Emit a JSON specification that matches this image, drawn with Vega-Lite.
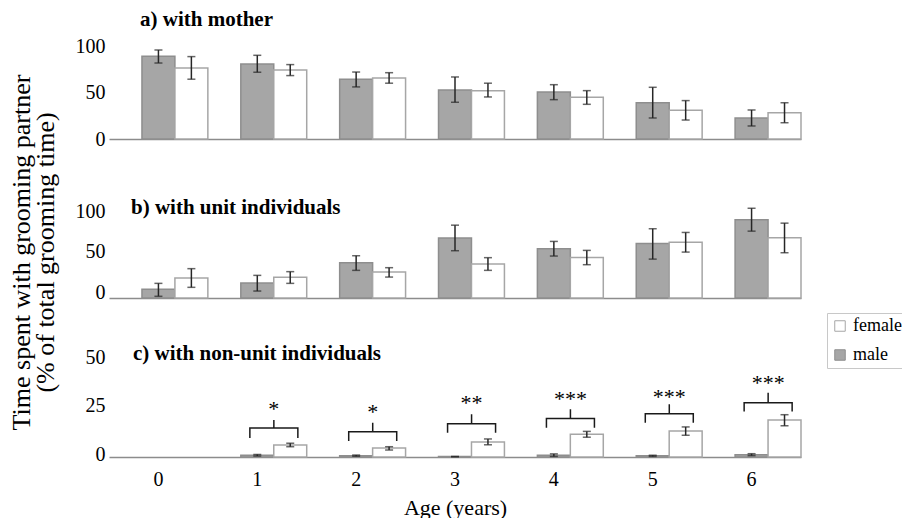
{
  "$schema": "https://vega.github.io/schema/vega-lite/v6.json",
  "background": "white",
  "padding": {"left": 8, "top": 9, "right": 0, "bottom": 0},
  "bounds": "flush",
  "spacing": 62,
  "config": {
    "view": {"stroke": null},
    "font": "Liberation Serif",
    "axis": {"labelFont": "Liberation Serif", "titleFont": "Liberation Serif", "labelColor": "#000", "titleColor": "#000", "grid": false, "ticks": false},
    "title": {"font": "Liberation Serif", "fontSize": 21, "fontWeight": "bold", "anchor": "start", "frame": "group", "baseline": "alphabetic", "color": "#000"}
  },
  "resolve": {"scale": {"xOffset": "independent"}},
  "datasets": {
    "bars": [
      {"panel": "a", "age": 0, "sex": "male", "value": 89, "lo": 81.7, "hi": 95.7},
      {"panel": "a", "age": 0, "sex": "female", "value": 76.3, "lo": 64.3, "hi": 88.6},
      {"panel": "a", "age": 1, "sex": "male", "value": 80.6, "lo": 71.8, "hi": 90},
      {"panel": "a", "age": 1, "sex": "female", "value": 74.2, "lo": 68.2, "hi": 80},
      {"panel": "a", "age": 2, "sex": "male", "value": 64.3, "lo": 56, "hi": 72},
      {"panel": "a", "age": 2, "sex": "female", "value": 65.6, "lo": 60, "hi": 71.3},
      {"panel": "a", "age": 3, "sex": "male", "value": 52.7, "lo": 39.5, "hi": 66.7},
      {"panel": "a", "age": 3, "sex": "female", "value": 52, "lo": 45.2, "hi": 60},
      {"panel": "a", "age": 4, "sex": "male", "value": 50.5, "lo": 42.3, "hi": 58.4},
      {"panel": "a", "age": 4, "sex": "female", "value": 44.8, "lo": 37.3, "hi": 52},
      {"panel": "a", "age": 5, "sex": "male", "value": 39, "lo": 22.6, "hi": 55.6},
      {"panel": "a", "age": 5, "sex": "female", "value": 30.8, "lo": 20.4, "hi": 41.3},
      {"panel": "a", "age": 6, "sex": "male", "value": 22.6, "lo": 14, "hi": 31.2},
      {"panel": "a", "age": 6, "sex": "female", "value": 28.3, "lo": 17.5, "hi": 39},
      {"panel": "b", "age": 0, "sex": "male", "value": 10.7, "lo": 2.1, "hi": 18.1},
      {"panel": "b", "age": 0, "sex": "female", "value": 24.7, "lo": 13.2, "hi": 36.3},
      {"panel": "b", "age": 1, "sex": "male", "value": 18.5, "lo": 8.6, "hi": 28},
      {"panel": "b", "age": 1, "sex": "female", "value": 25.6, "lo": 18.1, "hi": 32.6},
      {"panel": "b", "age": 2, "sex": "male", "value": 43.7, "lo": 34.2, "hi": 52.3},
      {"panel": "b", "age": 2, "sex": "female", "value": 32.1, "lo": 25.9, "hi": 37.5},
      {"panel": "b", "age": 3, "sex": "male", "value": 74.1, "lo": 58.5, "hi": 90.1},
      {"panel": "b", "age": 3, "sex": "female", "value": 42, "lo": 34.2, "hi": 49.9},
      {"panel": "b", "age": 4, "sex": "male", "value": 61, "lo": 51.9, "hi": 70},
      {"panel": "b", "age": 4, "sex": "female", "value": 50.2, "lo": 41.2, "hi": 58.9},
      {"panel": "b", "age": 5, "sex": "male", "value": 67.5, "lo": 48.1, "hi": 85.7},
      {"panel": "b", "age": 5, "sex": "female", "value": 69.1, "lo": 56.8, "hi": 81.1},
      {"panel": "b", "age": 6, "sex": "male", "value": 96.8, "lo": 82.7, "hi": 111},
      {"panel": "b", "age": 6, "sex": "female", "value": 74.6, "lo": 56, "hi": 92.6},
      {"panel": "c", "age": 1, "sex": "male", "value": 0.9, "lo": 0.5, "hi": 1.3},
      {"panel": "c", "age": 1, "sex": "female", "value": 6.2, "lo": 5.3, "hi": 7.1},
      {"panel": "c", "age": 2, "sex": "male", "value": 0.7, "lo": 0.4, "hi": 1.0},
      {"panel": "c", "age": 2, "sex": "female", "value": 4.6, "lo": 3.6, "hi": 5.3},
      {"panel": "c", "age": 3, "sex": "male", "value": 0.2, "lo": 0.1, "hi": 0.3},
      {"panel": "c", "age": 3, "sex": "female", "value": 7.7, "lo": 6.3, "hi": 9.3},
      {"panel": "c", "age": 4, "sex": "male", "value": 0.9, "lo": 0.3, "hi": 1.6},
      {"panel": "c", "age": 4, "sex": "female", "value": 11.7, "lo": 10.2, "hi": 13.2},
      {"panel": "c", "age": 5, "sex": "male", "value": 0.6, "lo": 0.3, "hi": 0.9},
      {"panel": "c", "age": 5, "sex": "female", "value": 13.4, "lo": 11.2, "hi": 15.5},
      {"panel": "c", "age": 6, "sex": "male", "value": 1.2, "lo": 0.7, "hi": 1.7},
      {"panel": "c", "age": 6, "sex": "female", "value": 19.1, "lo": 16.1, "hi": 21.8}
    ],
    "brackets": [
      {"age": 1, "pos": "l", "seq": 1, "y": 9.8}, {"age": 1, "pos": "l", "seq": 2, "y": 14.9}, {"age": 1, "pos": "m", "seq": 3, "y": 14.9}, {"age": 1, "pos": "m", "seq": 4, "y": 19.1}, {"age": 1, "pos": "m", "seq": 5, "y": 14.9}, {"age": 1, "pos": "r", "seq": 6, "y": 14.9}, {"age": 1, "pos": "r", "seq": 7, "y": 9.8},
      {"age": 2, "pos": "l", "seq": 1, "y": 8.2}, {"age": 2, "pos": "l", "seq": 2, "y": 13.0}, {"age": 2, "pos": "m", "seq": 3, "y": 13.0}, {"age": 2, "pos": "m", "seq": 4, "y": 17.7}, {"age": 2, "pos": "m", "seq": 5, "y": 13.0}, {"age": 2, "pos": "r", "seq": 6, "y": 13.0}, {"age": 2, "pos": "r", "seq": 7, "y": 8.2},
      {"age": 3, "pos": "l", "seq": 1, "y": 12.5}, {"age": 3, "pos": "l", "seq": 2, "y": 17.2}, {"age": 3, "pos": "m", "seq": 3, "y": 17.2}, {"age": 3, "pos": "m", "seq": 4, "y": 22.0}, {"age": 3, "pos": "m", "seq": 5, "y": 17.2}, {"age": 3, "pos": "r", "seq": 6, "y": 17.2}, {"age": 3, "pos": "r", "seq": 7, "y": 12.5},
      {"age": 4, "pos": "l", "seq": 1, "y": 15.1}, {"age": 4, "pos": "l", "seq": 2, "y": 19.9}, {"age": 4, "pos": "m", "seq": 3, "y": 19.9}, {"age": 4, "pos": "m", "seq": 4, "y": 24.6}, {"age": 4, "pos": "m", "seq": 5, "y": 19.9}, {"age": 4, "pos": "r", "seq": 6, "y": 19.9}, {"age": 4, "pos": "r", "seq": 7, "y": 15.1},
      {"age": 5, "pos": "l", "seq": 1, "y": 17.7}, {"age": 5, "pos": "l", "seq": 2, "y": 22.3}, {"age": 5, "pos": "m", "seq": 3, "y": 22.3}, {"age": 5, "pos": "m", "seq": 4, "y": 27.2}, {"age": 5, "pos": "m", "seq": 5, "y": 22.3}, {"age": 5, "pos": "r", "seq": 6, "y": 22.3}, {"age": 5, "pos": "r", "seq": 7, "y": 17.7},
      {"age": 6, "pos": "l", "seq": 1, "y": 23.4}, {"age": 6, "pos": "l", "seq": 2, "y": 28.0}, {"age": 6, "pos": "m", "seq": 3, "y": 28.0}, {"age": 6, "pos": "m", "seq": 4, "y": 33.1}, {"age": 6, "pos": "m", "seq": 5, "y": 28.0}, {"age": 6, "pos": "r", "seq": 6, "y": 28.0}, {"age": 6, "pos": "r", "seq": 7, "y": 23.4}
    ],
    "stars": [
      {"age": 1, "pos": "m", "y": 21.1, "label": "*"},
      {"age": 2, "pos": "m", "y": 19.6, "label": "*"},
      {"age": 3, "pos": "m", "y": 24.1, "label": "**"},
      {"age": 4, "pos": "m", "y": 26.3, "label": "***"},
      {"age": 5, "pos": "m", "y": 27.5, "label": "***"},
      {"age": 6, "pos": "m", "y": 34.4, "label": "***"}
    ]
  },
  "vconcat": [
    {
      "width": 692, "height": 93,
      "title": {"text": "a) with mother", "dx": 31, "offset": 6, "font": "Liberation Serif"},
      "data": {"name": "bars"},
      "transform": [{"filter": "datum.panel === 'a'"}],
      "encoding": {
        "x": {"field": "age", "type": "ordinal", "scale": {"domain": [0, 1, 2, 3, 4, 5, 6], "paddingInner": 0, "paddingOuter": 0}, "axis": {"labels": false, "title": null, "domainColor": "#8c8c8c", "domainWidth": 1.5}},
        "xOffset": {"field": "sex", "type": "nominal", "scale": {"domain": ["blank", "male", "female"], "paddingInner": 0, "paddingOuter": 0}}
      },
      "layer": [
        {"mark": {"type": "bar", "strokeWidth": 1.5},
         "encoding": {
           "y": {"field": "value", "type": "quantitative", "scale": {"domain": [0, 100], "nice": false}, "axis": {"values": [0, 50, 100], "domain": false, "labelFont": "Liberation Serif", "labelFontSize": 20, "labelPadding": 4, "title": ["Time spent with grooming partner", "(% of total grooming time)"], "titleFont": "Liberation Serif", "titleFontSize": 26, "titleFontWeight": "normal", "titlePadding": 17, "titleLineHeight": 23.5, "titleY": 206}},
           "color": {"field": "sex", "type": "nominal", "scale": {"domain": ["female", "male"], "range": ["#ffffff", "#a6a6a6"]}, "legend": {"title": null, "orient": "none", "legendX": 718, "legendY": 267, "symbolType": "square", "symbolSize": 110, "labelFont": "Liberation Serif", "labelFontSize": 18, "labelColor": "#000", "strokeColor": "#c8c8c8", "padding": 4, "rowPadding": 11, "symbolStrokeWidth": 1}},
           "stroke": {"field": "sex", "type": "nominal", "scale": {"domain": ["female", "male"], "range": ["#a6a6a6", "#8e8e8e"]}, "legend": {"title": null, "orient": "none", "legendX": 718, "legendY": 267, "symbolType": "square", "symbolSize": 110, "labelFont": "Liberation Serif", "labelFontSize": 18, "labelColor": "#000", "strokeColor": "#c8c8c8", "padding": 4, "rowPadding": 11, "symbolStrokeWidth": 1}}
         }},
        {"mark": {"type": "rule", "color": "#262626", "strokeWidth": 1.5},
         "encoding": {"y": {"field": "lo", "type": "quantitative", "scale": {"domain": [0, 100], "nice": false}, "axis": {"values": [0, 50, 100], "domain": false, "labelFont": "Liberation Serif", "labelFontSize": 20, "labelPadding": 4, "title": ["Time spent with grooming partner", "(% of total grooming time)"], "titleFont": "Liberation Serif", "titleFontSize": 26, "titleFontWeight": "normal", "titlePadding": 17, "titleLineHeight": 23.5, "titleY": 206}}, "y2": {"field": "hi"}}},
        {"mark": {"type": "tick", "color": "#262626", "thickness": 1.5, "size": 8},
         "encoding": {"y": {"field": "lo", "type": "quantitative", "scale": {"domain": [0, 100], "nice": false}, "axis": {"values": [0, 50, 100], "domain": false, "labelFont": "Liberation Serif", "labelFontSize": 20, "labelPadding": 4, "title": ["Time spent with grooming partner", "(% of total grooming time)"], "titleFont": "Liberation Serif", "titleFontSize": 26, "titleFontWeight": "normal", "titlePadding": 17, "titleLineHeight": 23.5, "titleY": 206}}}},
        {"mark": {"type": "tick", "color": "#262626", "thickness": 1.5, "size": 8},
         "encoding": {"y": {"field": "hi", "type": "quantitative", "scale": {"domain": [0, 100], "nice": false}, "axis": {"values": [0, 50, 100], "domain": false, "labelFont": "Liberation Serif", "labelFontSize": 20, "labelPadding": 4, "title": ["Time spent with grooming partner", "(% of total grooming time)"], "titleFont": "Liberation Serif", "titleFontSize": 26, "titleFontWeight": "normal", "titlePadding": 17, "titleLineHeight": 23.5, "titleY": 206}}}}
      ]
    },
    {
      "width": 692, "height": 97,
      "title": {"text": "b) with unit individuals", "dx": 22, "offset": -17, "font": "Liberation Serif"},
      "data": {"name": "bars"},
      "transform": [{"filter": "datum.panel === 'b'"}],
      "encoding": {
        "x": {"field": "age", "type": "ordinal", "scale": {"domain": [0, 1, 2, 3, 4, 5, 6], "paddingInner": 0, "paddingOuter": 0}, "axis": {"labels": false, "title": null, "domainColor": "#8c8c8c", "domainWidth": 1.5}},
        "xOffset": {"field": "sex", "type": "nominal", "scale": {"domain": ["blank", "male", "female"], "paddingInner": 0, "paddingOuter": 0}}
      },
      "layer": [
        {"mark": {"type": "bar", "strokeWidth": 1.5},
         "encoding": {
           "y": {"field": "value", "type": "quantitative", "scale": {"domain": [0, 120], "nice": false}, "axis": {"values": [0, 50, 100], "domain": false, "labelFont": "Liberation Serif", "labelFontSize": 20, "labelPadding": 4, "labelOffset": -6, "title": null}},
           "color": {"field": "sex", "type": "nominal", "scale": {"domain": ["female", "male"], "range": ["#ffffff", "#a6a6a6"]}, "legend": {"title": null, "orient": "none", "legendX": 718, "legendY": 267, "symbolType": "square", "symbolSize": 110, "labelFont": "Liberation Serif", "labelFontSize": 18, "labelColor": "#000", "strokeColor": "#c8c8c8", "padding": 4, "rowPadding": 11, "symbolStrokeWidth": 1}},
           "stroke": {"field": "sex", "type": "nominal", "scale": {"domain": ["female", "male"], "range": ["#a6a6a6", "#8e8e8e"]}, "legend": {"title": null, "orient": "none", "legendX": 718, "legendY": 267, "symbolType": "square", "symbolSize": 110, "labelFont": "Liberation Serif", "labelFontSize": 18, "labelColor": "#000", "strokeColor": "#c8c8c8", "padding": 4, "rowPadding": 11, "symbolStrokeWidth": 1}}
         }},
        {"mark": {"type": "rule", "color": "#262626", "strokeWidth": 1.5},
         "encoding": {"y": {"field": "lo", "type": "quantitative", "scale": {"domain": [0, 120], "nice": false}, "axis": {"values": [0, 50, 100], "domain": false, "labelFont": "Liberation Serif", "labelFontSize": 20, "labelPadding": 4, "labelOffset": -6, "title": null}}, "y2": {"field": "hi"}}},
        {"mark": {"type": "tick", "color": "#262626", "thickness": 1.5, "size": 8},
         "encoding": {"y": {"field": "lo", "type": "quantitative", "scale": {"domain": [0, 120], "nice": false}, "axis": {"values": [0, 50, 100], "domain": false, "labelFont": "Liberation Serif", "labelFontSize": 20, "labelPadding": 4, "labelOffset": -6, "title": null}}}},
        {"mark": {"type": "tick", "color": "#262626", "thickness": 1.5, "size": 8},
         "encoding": {"y": {"field": "hi", "type": "quantitative", "scale": {"domain": [0, 120], "nice": false}, "axis": {"values": [0, 50, 100], "domain": false, "labelFont": "Liberation Serif", "labelFontSize": 20, "labelPadding": 4, "labelOffset": -6, "title": null}}}}
      ]
    },
    {
      "width": 692, "height": 97,
      "title": {"text": "c) with non-unit individuals", "dx": 24, "offset": -16.7, "font": "Liberation Serif"},
      "data": {"name": "bars"},
      "transform": [{"filter": "datum.panel === 'c'"}],
      "resolve": {"scale": {"xOffset": "independent"}},
      "encoding": {
        "x": {"field": "age", "type": "ordinal", "scale": {"domain": [0, 1, 2, 3, 4, 5, 6], "paddingInner": 0, "paddingOuter": 0}, "axis": {"labelFont": "Liberation Serif", "labelFontSize": 20, "labelAngle": 0, "labelPadding": 12, "title": "Age (years)", "titleFont": "Liberation Serif", "titleFontSize": 22, "titleFontWeight": "normal", "titlePadding": 8, "domainColor": "#8c8c8c", "domainWidth": 1.5}}
      },
      "layer": [
        {"mark": {"type": "bar", "strokeWidth": 1.5},
         "encoding": {
           "xOffset": {"field": "sex", "type": "nominal", "scale": {"domain": ["blank", "male", "female"], "paddingInner": 0, "paddingOuter": 0}},
           "y": {"field": "value", "type": "quantitative", "scale": {"domain": [0, 50], "nice": false}, "axis": {"values": [0, 25, 50], "domain": false, "labelFont": "Liberation Serif", "labelFontSize": 20, "labelPadding": 4, "labelOffset": -3, "title": null}},
           "color": {"field": "sex", "type": "nominal", "scale": {"domain": ["female", "male"], "range": ["#ffffff", "#a6a6a6"]}, "legend": {"title": null, "orient": "none", "legendX": 718, "legendY": 267, "symbolType": "square", "symbolSize": 110, "labelFont": "Liberation Serif", "labelFontSize": 18, "labelColor": "#000", "strokeColor": "#c8c8c8", "padding": 4, "rowPadding": 11, "symbolStrokeWidth": 1}},
           "stroke": {"field": "sex", "type": "nominal", "scale": {"domain": ["female", "male"], "range": ["#a6a6a6", "#8e8e8e"]}, "legend": {"title": null, "orient": "none", "legendX": 718, "legendY": 267, "symbolType": "square", "symbolSize": 110, "labelFont": "Liberation Serif", "labelFontSize": 18, "labelColor": "#000", "strokeColor": "#c8c8c8", "padding": 4, "rowPadding": 11, "symbolStrokeWidth": 1}}
         }},
        {"mark": {"type": "rule", "color": "#262626", "strokeWidth": 1.5},
         "encoding": {
           "xOffset": {"field": "sex", "type": "nominal", "scale": {"domain": ["blank", "male", "female"], "paddingInner": 0, "paddingOuter": 0}},
           "y": {"field": "lo", "type": "quantitative", "scale": {"domain": [0, 50], "nice": false}, "axis": {"values": [0, 25, 50], "domain": false, "labelFont": "Liberation Serif", "labelFontSize": 20, "labelPadding": 4, "labelOffset": -3, "title": null}}, "y2": {"field": "hi"}}},
        {"mark": {"type": "tick", "color": "#262626", "thickness": 1.5, "size": 8},
         "encoding": {
           "xOffset": {"field": "sex", "type": "nominal", "scale": {"domain": ["blank", "male", "female"], "paddingInner": 0, "paddingOuter": 0}},
           "y": {"field": "lo", "type": "quantitative", "scale": {"domain": [0, 50], "nice": false}, "axis": {"values": [0, 25, 50], "domain": false, "labelFont": "Liberation Serif", "labelFontSize": 20, "labelPadding": 4, "labelOffset": -3, "title": null}}}},
        {"mark": {"type": "tick", "color": "#262626", "thickness": 1.5, "size": 8},
         "encoding": {
           "xOffset": {"field": "sex", "type": "nominal", "scale": {"domain": ["blank", "male", "female"], "paddingInner": 0, "paddingOuter": 0}},
           "y": {"field": "hi", "type": "quantitative", "scale": {"domain": [0, 50], "nice": false}, "axis": {"values": [0, 25, 50], "domain": false, "labelFont": "Liberation Serif", "labelFontSize": 20, "labelPadding": 4, "labelOffset": -3, "title": null}}}},
        {"data": {"name": "brackets"},
         "mark": {"type": "line", "color": "#1a1a1a", "strokeWidth": 1.5},
         "encoding": {
           "xOffset": {"field": "pos", "type": "nominal", "scale": {"type": "point", "domain": ["l", "m", "r"], "range": [42, 90], "padding": 0}},
           "y": {"field": "y", "type": "quantitative", "scale": {"domain": [0, 50], "nice": false}, "axis": {"values": [0, 25, 50], "domain": false, "labelFont": "Liberation Serif", "labelFontSize": 20, "labelPadding": 4, "labelOffset": -3, "title": null}},
           "detail": {"field": "age", "type": "nominal"},
           "order": {"field": "seq", "type": "quantitative"}
         }},
        {"data": {"name": "stars"},
         "mark": {"type": "text", "fontSize": 22, "font": "Liberation Serif", "baseline": "alphabetic", "align": "center", "color": "#000"},
         "encoding": {
           "xOffset": {"field": "pos", "type": "nominal", "scale": {"type": "point", "domain": ["l", "m", "r"], "range": [42, 90], "padding": 0}},
           "y": {"field": "y", "type": "quantitative", "scale": {"domain": [0, 50], "nice": false}, "axis": {"values": [0, 25, 50], "domain": false, "labelFont": "Liberation Serif", "labelFontSize": 20, "labelPadding": 4, "labelOffset": -3, "title": null}},
           "text": {"field": "label"}
         }}
      ]
    }
  ]
}
